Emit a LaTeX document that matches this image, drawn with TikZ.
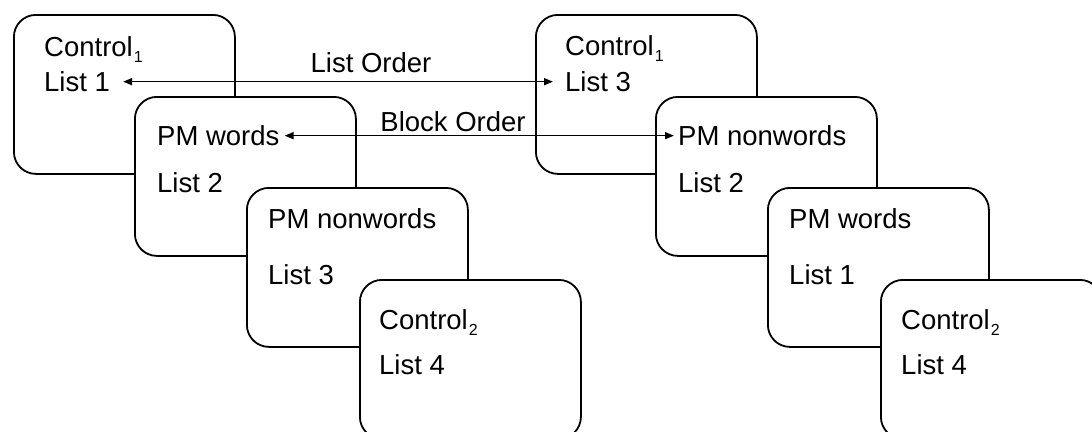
\documentclass[tikz,border=0pt]{standalone}
\usepackage{fontspec}
\setmainfont{Liberation Sans}
\usetikzlibrary{arrows.meta}
\newcommand\subidx[1]{\kern1pt\raisebox{-6.5pt}{\fontsize{16}{16}\selectfont #1}}
\begin{document}
\begin{tikzpicture}[x=1pt,y=-1pt,
  box/.style={draw, line width=1.8pt, fill=white, rounded corners=22pt,
    minimum width=221pt, minimum height=159pt, anchor=north west, inner sep=0pt},
  lbl/.style={anchor=base west, inner sep=0pt, font=\fontsize{27.5}{32}\selectfont},
  arr/.style={{Triangle[length=9pt,width=7pt]}-{Triangle[length=9pt,width=7pt]}, line width=1.6pt}]
\clip (0,0) rectangle (1092,431);
\fill[white] (0,0) rectangle (1092,431);
% left stack
\node[box] (a1) at (13,14) {};
\node[box] (a2) at (134,96) {};
\node[box] (a3) at (246,187) {};
\node[box] (a4) at (359,279) {};
% right stack
\node[box] (b1) at (535,14) {};
\node[box] (b2) at (655,96) {};
\node[box] (b3) at (767,187) {};
\node[box] (b4) at (880,279) {};
% texts left
\node[lbl] (a1c) at (44,56) {Control\subidx{1}};
\node[lbl] (a1l) at (44,91.5) {List 1};
\node[lbl] (a2c) at (157,145.5) {PM words};
\node[lbl] (a2l) at (157,192) {List 2};
\node[lbl] (a3c) at (268,228) {PM nonwords};
\node[lbl] (a3l) at (268,284) {List 3};
\node[lbl] (a4c) at (379,329) {Control\subidx{2}};
\node[lbl] (a4l) at (379,374) {List 4};
% texts right
\node[lbl] (b1c) at (565,55) {Control\subidx{1}};
\node[lbl] (b1l) at (565,91.5) {List 3};
\node[lbl] (b2c) at (678,145.5) {PM nonwords};
\node[lbl] (b2l) at (678,192) {List 2};
\node[lbl] (b3c) at (789,228) {PM words};
\node[lbl] (b3l) at (789,284) {List 1};
\node[lbl] (b4c) at (901,329) {Control\subidx{2}};
\node[lbl] (b4l) at (901,374) {List 4};
% order labels
\node[lbl, anchor=base] (lo) at (371,72) {List Order};
\node[lbl, anchor=base] (bo) at (453,131) {Block Order};
% arrows
\draw[arr] ([xshift=13pt]a1l.east) -- ([xshift=-12pt]b1l.west);
\draw[arr] ([xshift=5pt]a2c.east) -- ([xshift=-4pt]b2c.west);
\end{tikzpicture}
\end{document}
